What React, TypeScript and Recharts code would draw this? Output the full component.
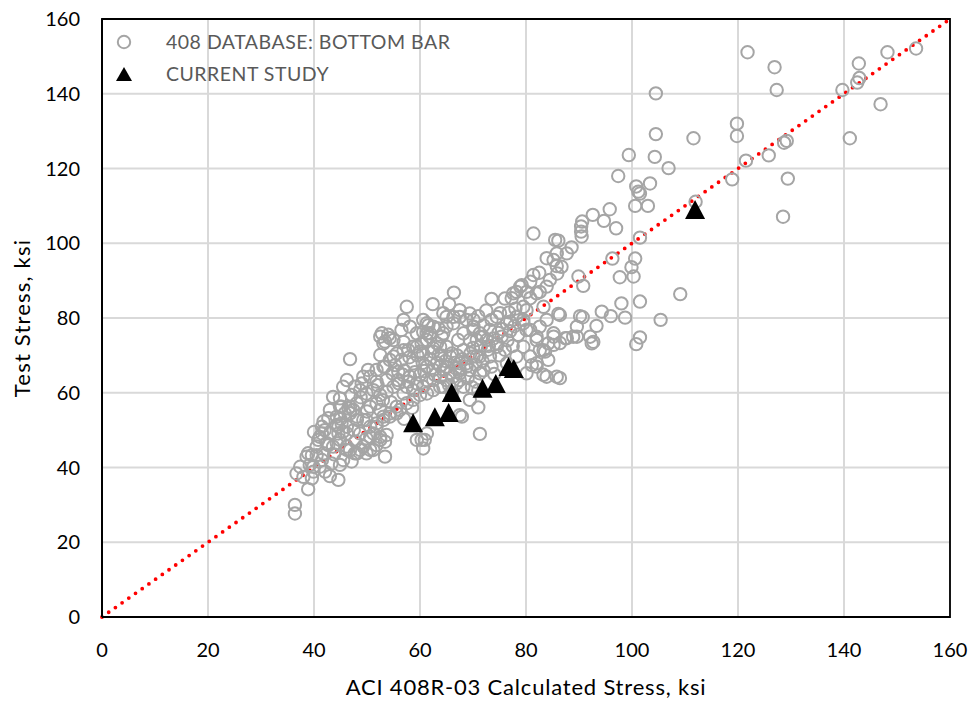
import { ScatterChart, Scatter, XAxis, YAxis, CartesianGrid, ReferenceLine, ReferenceArea } from 'recharts';

const FONT = 'Lato, "Open Sans", sans-serif';

// [ACI 408R-03 calculated stress, test stress] in ksi
const dbUpper = [
  [121.8, 151.1], [126.9, 147.1], [127.3, 141.0], [111.6, 128.1], [119.8, 132.0], [119.8, 128.7], [121.5, 122.1],
  [118.9, 117.1], [125.8, 123.5], [128.7, 126.9], [129.2, 127.4], [129.4, 117.3], [128.5, 107.1], [106.9, 120.1],
  [104.5, 140.1], [104.5, 129.2], [104.3, 123.1], [99.4, 123.6], [139.7, 141.0], [142.8, 148.1], [142.9, 144.2],
  [142.5, 143.0], [148.2, 151.1], [153.6, 152.1], [146.9, 137.2], [141.1, 128.1], [112.0, 111.1], [109.1, 86.4],
  [105.4, 79.5], [97.4, 118.0], [100.8, 115.2], [101.2, 113.8], [101.5, 113.3], [103.4, 116.0], [100.6, 110.0],
  [103.0, 110.0], [95.8, 109.1], [92.6, 107.6], [94.7, 106.0], [97.0, 104.0], [101.5, 101.5], [100.6, 95.9],
  [99.9, 93.6], [100.3, 91.1], [97.7, 90.9], [96.3, 95.9], [89.9, 91.1], [90.8, 88.6], [88.6, 98.9], [90.4, 104.5],
  [90.4, 103.1], [90.5, 101.8], [90.6, 105.8], [101.5, 84.4], [98.0, 83.9], [94.3, 81.7], [96.0, 80.5], [98.7, 80.1],
  [93.3, 77.9], [90.2, 80.5], [90.7, 80.2], [89.6, 77.7], [87.7, 74.6], [89.6, 75.0], [92.1, 75.0], [92.4, 73.2],
  [92.7, 73.6], [101.5, 74.8], [100.8, 73.0], [86.4, 80.8], [86.4, 73.3], [86.4, 63.9], [81.4, 102.6], [85.5, 100.9],
  [86.1, 100.7], [85.8, 97.3], [83.9, 96.0], [85.8, 93.9], [85.9, 91.9], [81.4, 91.5], [82.5, 92.1], [82.6, 87.0],
  [86.1, 81.1], [78.9, 88.4], [80.1, 87.0], [78.2, 87.0], [77.3, 85.3], [79.5, 83.0], [83.3, 83.0],
];

const dbBandHigh = [
  [66.4, 86.8], [65.5, 83.7], [73.5, 85.1], [76.0, 85.2], [77.6, 86.6], [79.2, 88.8], [80.8, 89.7], [83.3, 64.8],
  [84.2, 68.8], [81.1, 67.4], [85.2, 72.8], [84.2, 73.2], [82.6, 71.4], [83.6, 71.0], [71.0, 56.1], [71.3, 49.0],
  [67.9, 53.6], [68.8, 79.5], [70.1, 77.7], [71.3, 75.9], [72.6, 74.1], [69.4, 74.1], [68.2, 71.4], [70.7, 69.7],
  [73.2, 69.7], [74.5, 72.3], [75.4, 75.0], [76.4, 78.6], [78.2, 80.3], [79.5, 78.6], [80.8, 76.8], [82.0, 75.0],
  [82.6, 77.7], [83.9, 79.5], [85.2, 75.9], [79.5, 72.3], [80.8, 69.7], [82.0, 67.9], [78.2, 69.7], [76.4, 67.9],
  [65.7, 69.7], [65.0, 67.0], [67.5, 67.9], [69.4, 66.1], [71.3, 65.2], [67.5, 63.4], [64.4, 61.6], [69.4, 58.1],
  [63.8, 72.3], [65.0, 77.7], [66.3, 80.3], [67.5, 82.1], [64.4, 81.3],
];

const dbBandMid = [
  [61.6, 78.1], [62.5, 77.7], [63.5, 77.2], [61.3, 75.9], [61.9, 75.0], [64.1, 75.0], [60.3, 73.2], [58.7, 72.3],
  [54.3, 74.6], [53.4, 73.7], [52.8, 75.9], [55.0, 69.7], [56.5, 68.8], [56.9, 71.4], [60.6, 70.5], [62.5, 71.9],
  [63.5, 70.1], [65.0, 72.3], [66.0, 70.5], [67.2, 74.1], [70.7, 74.1], [71.9, 75.0], [73.2, 76.8], [73.5, 79.5],
  [74.5, 80.3], [75.1, 81.3], [77.0, 79.0], [79.5, 79.5], [80.1, 82.1], [80.8, 85.3], [82.0, 86.6], [83.9, 88.4],
  [84.5, 90.2], [86.7, 93.7], [85.2, 95.5], [87.7, 97.3], [85.2, 75.0], [87.4, 74.6], [88.9, 75.0], [80.1, 76.8],
  [82.0, 74.1], [83.3, 71.4], [82.0, 67.0], [83.9, 64.3], [85.8, 64.3], [80.1, 65.2], [74.5, 73.2], [71.3, 69.7],
  [68.8, 67.0], [67.5, 65.2], [61.3, 67.0], [58.7, 67.9], [55.9, 65.6], [53.7, 63.4], [53.4, 67.0], [62.5, 63.4],
  [68.2, 61.6], [60.6, 61.6], [63.2, 68.0], [64.4, 66.1], [65.7, 65.2], [66.9, 62.5], [63.8, 64.3], [62.5, 66.1],
  [61.3, 63.4], [59.4, 62.5], [58.1, 64.3], [57.5, 61.6], [56.9, 59.8], [58.7, 60.7], [60.0, 64.8], [62.0, 69.0],
  [64.0, 70.0], [66.0, 60.0], [69.0, 64.0], [70.5, 63.0], [72.0, 66.0], [73.5, 67.0], [74.0, 65.0], [75.0, 70.0],
  [76.0, 71.5], [77.5, 72.5], [78.5, 75.5], [77.0, 76.5], [75.5, 77.0], [72.0, 78.0], [71.0, 80.5], [72.5, 82.0],
];

const dbBandCore = [
  [57.0, 66.0], [58.0, 69.5], [59.5, 70.0], [60.5, 68.0], [59.0, 65.5], [56.0, 62.5], [57.8, 63.0], [60.8, 65.8],
  [62.8, 64.8], [63.8, 67.2], [64.8, 68.5], [66.5, 68.0], [67.0, 70.0], [68.0, 69.0], [69.5, 70.5], [70.0, 72.0],
  [71.5, 72.5], [72.8, 71.5], [73.8, 74.5], [74.8, 76.0], [76.5, 74.0], [77.8, 77.8], [76.8, 81.5], [78.0, 82.5],
  [73.0, 72.5], [70.5, 67.5], [71.8, 68.5], [69.8, 61.5], [66.8, 66.5], [65.5, 62.0], [54.5, 57.5], [53.0, 58.0],
  [54.8, 65.2], [56.8, 64.8], [58.5, 56.0], [57.0, 53.0], [50.0, 55.0], [48.8, 58.8], [47.5, 50.0], [45.0, 53.0],
  [42.0, 50.0], [40.0, 49.5], [43.8, 43.5], [41.5, 42.0], [47.8, 47.0], [52.0, 62.0],
];

const dbBandLow = [
  [57.5, 83.0], [62.4, 83.7], [46.8, 69.0], [58.1, 77.7], [61.3, 78.6], [60.6, 76.3], [61.9, 75.9], [64.4, 75.9],
  [67.5, 80.3], [69.4, 81.2], [70.1, 79.5], [54.0, 75.5], [55.0, 74.1], [53.1, 73.2], [52.5, 70.1], [56.9, 73.6],
  [57.8, 71.4], [55.6, 70.5], [54.3, 68.8], [55.3, 67.4], [63.2, 73.2], [61.3, 74.1], [59.4, 72.3], [60.0, 71.0],
  [62.5, 71.0], [49.0, 62.5], [47.7, 61.6], [50.6, 64.3], [51.8, 63.0], [48.1, 57.2], [46.5, 55.8], [46.8, 54.5],
  [45.2, 56.3], [44.9, 58.5], [41.5, 50.9], [41.1, 48.2], [43.0, 49.1], [44.6, 50.9], [38.6, 42.9], [37.4, 40.2],
  [39.6, 43.3], [39.9, 40.2], [41.8, 43.8], [71.0, 60.7], [52.5, 75.0], [56.5, 76.8], [59.4, 75.9], [56.9, 79.5],
  [60.6, 79.5], [65.0, 80.3], [66.3, 78.6], [68.2, 75.9], [70.1, 76.8], [49.3, 64.3], [50.2, 66.1], [51.8, 66.1],
  [53.1, 67.0], [48.7, 60.7], [49.9, 59.8], [51.2, 60.7], [52.5, 59.4], [53.7, 60.3], [55.0, 61.6], [55.9, 63.4],
  [46.2, 63.4], [45.5, 61.6], [47.1, 59.4], [43.6, 58.9], [44.3, 53.6], [43.0, 55.4], [48.1, 52.7], [49.9, 52.7],
  [51.8, 51.8], [53.1, 53.6], [54.3, 54.5], [56.2, 55.4], [57.5, 57.2], [58.7, 58.1], [60.0, 59.4], [61.3, 59.8],
  [62.5, 60.7], [63.8, 61.6], [65.0, 63.4], [66.3, 64.3], [67.5, 66.1], [68.8, 67.9], [70.1, 69.7], [50.6, 48.2],
  [52.5, 47.4], [53.7, 48.7], [49.3, 45.6], [51.2, 44.7], [48.1, 43.8], [46.2, 44.7], [44.9, 47.4], [46.2, 49.1],
  [40.5, 45.6], [42.4, 46.5], [53.4, 42.9], [59.4, 47.4], [60.3, 47.4], [60.6, 45.1],
];

const dbLower = [
  [36.4, 30.0], [36.4, 27.7], [38.9, 34.2], [36.7, 38.4], [38.0, 37.5], [39.6, 37.1], [39.9, 38.9], [44.6, 36.7],
  [43.0, 37.7], [39.2, 40.7], [41.1, 40.2], [42.1, 38.9], [40.5, 43.3], [38.9, 43.8], [41.5, 49.1], [40.8, 47.4],
  [44.3, 51.4], [45.2, 51.8], [46.2, 50.9], [44.6, 49.1], [45.5, 49.6], [42.7, 46.0], [43.6, 45.6], [44.3, 46.5],
  [46.2, 45.6], [46.8, 44.7], [47.7, 43.8], [48.7, 44.7], [49.9, 43.8], [50.6, 44.7], [47.1, 41.6], [45.5, 42.0],
  [44.9, 40.7], [43.3, 41.1], [48.7, 49.1], [49.9, 47.8], [51.2, 49.1], [50.6, 50.9], [49.3, 52.7], [48.1, 53.6],
  [47.4, 55.4], [46.8, 56.3], [44.9, 56.3], [45.8, 54.5], [41.8, 52.3], [42.7, 53.2], [52.5, 48.2], [53.4, 46.9],
  [51.8, 46.0], [51.8, 50.9], [53.1, 52.7], [54.3, 53.6], [55.6, 54.5], [52.5, 55.4], [50.6, 56.3], [51.8, 57.2],
  [60.9, 47.4], [61.3, 49.1], [67.5, 54.0], [55.6, 56.3],
];

const studyCalc = [58.7, 62.8, 65.4, 66.0, 71.8, 74.3, 76.7, 77.7, 111.9];
const studyTest = [52.0, 53.6, 54.7, 60.1, 61.2, 62.5, 67.0, 66.5, 109.0];

const axisTicks = [0, 20, 40, 60, 80, 100, 120, 140, 160];

const dbData = [...dbUpper, ...dbBandHigh, ...dbBandMid, ...dbBandCore, ...dbBandLow, ...dbLower].map(([x, y]) => ({ x, y }));
const studyData = studyCalc.map((x, i) => ({ x, y: studyTest[i] }));

const GRAY = '#a5a5a5';

const OpenCircle = (props: any) => (
  <circle cx={props.cx} cy={props.cy} r={6.2} fill="none" stroke={GRAY} strokeWidth={2} />
);

const Triangle = (props: any) => {
  const { cx, cy } = props;
  return <polygon points={`${cx},${cy - 9.5} ${cx - 10},${cy + 9.5} ${cx + 10},${cy + 9.5}`} fill="#000" />;
};

const tickStyle = { fontSize: 20, fill: '#000', fontFamily: FONT };
const titleStyle = { fontSize: 22, fill: '#000', fontFamily: FONT, letterSpacing: 0.8 };

export default function App() {
  return (
    <div style={{ position: 'absolute', left: 0, top: 0, width: 972, height: 702, background: '#fff' }}>
      <ScatterChart width={972} height={702} margin={{ top: 19, right: 22, bottom: 0, left: 0 }}>
        <CartesianGrid stroke="#d9d9d9" strokeWidth={2} />
        <XAxis
          type="number"
          dataKey="x"
          domain={[0, 160]}
          ticks={axisTicks}
          height={85}
          tickLine={false}
          tickSize={0}
          tickMargin={26}
          axisLine={{ stroke: '#000', strokeWidth: 2 }}
          tick={tickStyle}
          label={{ value: 'ACI 408R-03 Calculated Stress, ksi', position: 'insideBottom', offset: 7, style: titleStyle }}
        />
        <YAxis
          type="number"
          dataKey="y"
          domain={[0, 160]}
          ticks={axisTicks}
          width={102}
          tickLine={false}
          tickSize={0}
          tickMargin={22}
          axisLine={{ stroke: '#000', strokeWidth: 2 }}
          tick={tickStyle}
          label={{ value: 'Test Stress, ksi', angle: -90, position: 'insideLeft', offset: 22, style: { ...titleStyle, letterSpacing: 1.2, textAnchor: 'middle' } }}
        />
        <ReferenceLine
          segment={[{ x: 0, y: 0 }, { x: 160, y: 160 }]}
          stroke="#ff0000"
          strokeWidth={3.8}
          strokeDasharray="0 8.2"
          strokeLinecap="round"
        />
        <Scatter data={dbData} shape={OpenCircle} isAnimationActive={false} />
        <Scatter data={studyData} shape={Triangle} isAnimationActive={false} />
        <ReferenceArea x1={0} x2={160} y1={0} y2={160} fill="none" fillOpacity={0} stroke="#000" strokeWidth={1.8} />
      </ScatterChart>
      <svg width={972} height={702} style={{ position: 'absolute', left: 0, top: 0, pointerEvents: 'none' }}>
        <circle cx={124} cy={42} r={6.2} fill="none" stroke={GRAY} strokeWidth={2} />
        <text x={166} y={41} dominantBaseline="central" fontSize={19.5} letterSpacing={0.5} fontFamily={FONT} fill="#595959">
          408 DATABASE: BOTTOM BAR
        </text>
        <polygon points="124,67 116,81 132,81" fill="#000" />
        <text x={166} y={73.5} dominantBaseline="central" fontSize={19.5} letterSpacing={0.5} fontFamily={FONT} fill="#595959">
          CURRENT STUDY
        </text>
      </svg>
    </div>
  );
}
